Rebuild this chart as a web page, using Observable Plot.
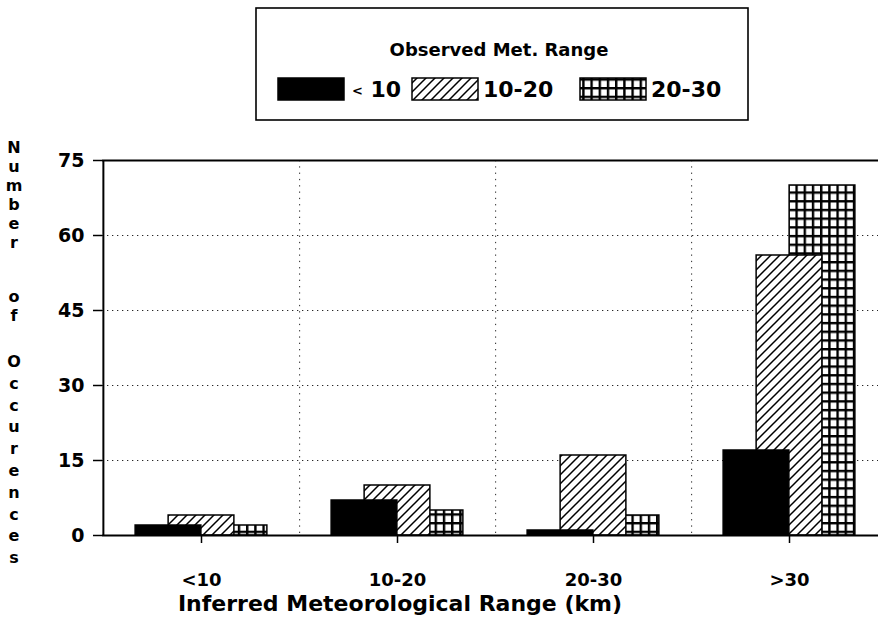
<!DOCTYPE html>
<html>
<head>
<meta charset="utf-8">
<script src="https://cdn.jsdelivr.net/npm/d3@7"></script>
<script src="https://cdn.jsdelivr.net/npm/@observablehq/plot@0.6"></script>
<style>
  html, body { margin: 0; padding: 0; background: #fff; }
  #wrap { position: relative; width: 878px; height: 619px; overflow: hidden; font-family: "DejaVu Sans", sans-serif; font-weight: bold; color: #000; }
  #wrap > svg { position: absolute; left: 0; top: 0; }
  .ylab { position: absolute; left: 4px; width: 20px; text-align: center; font-size: 16px; line-height: 1; }
  #xtitle { position: absolute; left: 0; width: 800px; top: 593px; text-align: center; font-size: 22px; line-height: 1; }
</style>
</head>
<body>
<div id="wrap"></div>
<script>
// ---- data ----
const categories = ["<10", "10-20", "20-30", ">30"];
const seriesNames = ["< 10", "10-20", "20-30"];
const below10 = [2, 7, 1, 17];
const from10to20 = [4, 10, 16, 56];
const from20to30 = [2, 5, 4, 70];
const yTicks = [0, 15, 30, 45, 60, 75];
const yLabelWords = ["Number", "of", "Occurences"];
const xTitle = "Inferred Meteorological Range (km)";
const legendTitle = "Observed Met. Range";

const rows = [];
categories.forEach((c, i) => {
  rows.push({cat: c, series: seriesNames[0], value: below10[i]});
  rows.push({cat: c, series: seriesNames[1], value: from10to20[i]});
  rows.push({cat: c, series: seriesNames[2], value: from20to30[i]});
});
const bySeries = s => rows.filter(r => r.series === s);

const W = 878, H = 619;
const step = 196.25;
const half = step / 2;

const plot = Plot.plot({
  width: W,
  height: H,
  marginTop: 160,
  marginBottom: 84,
  marginLeft: 102,
  marginRight: 0,
  x: {domain: categories, range: [102, 102 + 4 * step], padding: 0, label: null},
  y: {domain: [0, 75], label: null},
  style: {fontFamily: "DejaVu Sans, sans-serif", fontWeight: "bold", fontSize: "18px", color: "black", background: "white", overflow: "hidden"},
  marks: [
    Plot.gridY(yTicks.slice(1, -1), {stroke: "black", strokeOpacity: 0.85, strokeDasharray: "1.3,3.7", strokeWidth: 1}),
    Plot.ruleX(categories.slice(0, -1), {x: d => d, dx: half, stroke: "black", strokeOpacity: 0.85, strokeDasharray: "1.3,5", strokeWidth: 1}),
    Plot.barY(bySeries(seriesNames[2]), {x: "cat", y: "value", fill: "url(#gridPat)", stroke: "black", strokeWidth: 1.5, insetLeft: half, insetRight: half - 66}),
    Plot.barY(bySeries(seriesNames[1]), {x: "cat", y: "value", fill: "url(#hatchPat)", stroke: "black", strokeWidth: 1.5, insetLeft: half - 33, insetRight: half - 33}),
    Plot.barY(bySeries(seriesNames[0]), {x: "cat", y: "value", fill: "black", stroke: "black", strokeWidth: 1.5, insetLeft: half - 66, insetRight: half}),
    Plot.ruleY([0], {stroke: "black", strokeWidth: 2}),
    Plot.ruleY([75], {stroke: "black", strokeWidth: 2}),
    Plot.ruleX([categories[0]], {x: d => d, dx: -half, stroke: "black", strokeWidth: 2}),
    Plot.axisY({ticks: yTicks, tickSize: 9, tickPadding: 9, fontSize: 19, strokeWidth: 1.5, label: null}),
    Plot.axisX({tickSize: 8, tickPadding: 30, fontSize: 18, strokeWidth: 1.5, label: null})
  ]
});

// patterns
function addPatterns(svgSel, prefix) {
  const defs = svgSel.insert("defs", ":first-child");
  const h = defs.append("pattern").attr("id", prefix + "hatchPat")
    .attr("patternUnits", "userSpaceOnUse").attr("width", 9).attr("height", 9);
  h.append("rect").attr("width", 9).attr("height", 9).attr("fill", "white");
  h.append("path").attr("d", "M-1,10 L10,-1 M-2,2 L2,-2 M7,11 L11,7")
    .attr("stroke", "black").attr("stroke-width", 1.5);
  const g = defs.append("pattern").attr("id", prefix + "gridPat")
    .attr("patternUnits", "userSpaceOnUse").attr("width", 8.2).attr("height", 8.7);
  g.append("rect").attr("width", 8.2).attr("height", 8.7).attr("fill", "black");
  g.append("rect").attr("x", 2.4).attr("y", 2.4).attr("width", 5.8).attr("height", 6.3).attr("fill", "white");
}
addPatterns(d3.select(plot), "");

const wrap = document.getElementById("wrap");
wrap.appendChild(plot);

// y-axis stacked label
const letterY = [];
const wordStart = [148, 297, 362];
const wordStep = [19, 19, 21.8];
yLabelWords.forEach((w, wi) => {
  let yy = wordStart[wi];
  for (const ch of w) {
    letterY.push({ch, y: yy});
    yy += wordStep[wi];
  }
});
letterY.forEach(l => {
  const d = document.createElement("div");
  d.className = "ylab";
  d.textContent = l.ch;
  d.style.top = (l.y - 8) + "px";
  wrap.appendChild(d);
});

// x-axis title
const xt = document.createElement("div");
xt.id = "xtitle";
xt.textContent = xTitle;
wrap.appendChild(xt);

// legend
const leg = d3.select(wrap).append("svg")
  .attr("width", W).attr("height", 140)
  .style("position", "absolute").style("left", 0).style("top", 0)
  .style("font-family", "DejaVu Sans, sans-serif").style("font-weight", "bold");
addPatterns(leg, "lg");
leg.append("rect").attr("x", 256).attr("y", 8).attr("width", 492).attr("height", 112)
  .attr("fill", "white").attr("stroke", "black").attr("stroke-width", 1.6);
leg.append("text").attr("x", 499).attr("y", 56).attr("text-anchor", "middle")
  .attr("font-size", 18).text(legendTitle);
const swX = [278, 412, 580];
const labX = [352, 483, 651];
const swFill = ["black", "url(#lghatchPat)", "url(#lggridPat)"];
seriesNames.forEach((s, i) => {
  leg.append("rect").attr("x", swX[i]).attr("y", 78).attr("width", 66).attr("height", 22)
    .attr("fill", swFill[i]).attr("stroke", "black").attr("stroke-width", 1.5);
  const t = leg.append("text").attr("x", labX[i]).attr("y", 97).attr("font-size", 22);
  if (s.startsWith("<")) {
    t.append("tspan").attr("font-size", 13).attr("dy", -2).text(s[0]);
    t.append("tspan").attr("dy", 2).text(s.slice(1));
  } else {
    t.text(s);
  }
});
</script>
</body>
</html>
